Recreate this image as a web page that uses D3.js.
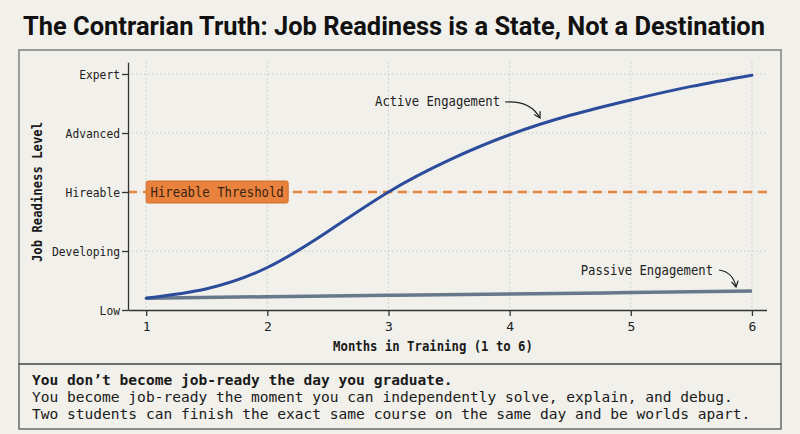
<!DOCTYPE html>
<html>
<head>
<meta charset='UTF-8'>
<title>Job Readiness</title>
<script src='https://d3js.org/d3.v7.min.js'></script>
<style>
  body { margin: 0; background: #f1f0eb; }
  svg { display: block; }
</style>
</head>
<body>
<div id="chart"></div>
<script>
// data
var levels  = ["Low", "Developing", "Hireable", "Advanced", "Expert"];
var months  = [1, 2, 3, 4, 5, 6];
var activeMonths  = [1, 1.5, 2, 2.5, 3, 3.5, 4, 4.5, 5, 5.5, 6];
var activeLevels  = [0.2, 0.36, 0.72, 1.33, 2.0, 2.54, 2.97, 3.3, 3.56, 3.79, 3.98];
var passiveMonths = [1, 2, 3, 4, 5, 6];
var passiveLevels = [0.2, 0.225, 0.25, 0.27, 0.295, 0.32];
var threshold = 2;
var title = "The Contrarian Truth: Job Readiness is a State, Not a Destination";
var notes = [
  "You don\u2019t become job-ready the day you graduate.",
  "You become job-ready the moment you can independently solve, explain, and debug.",
  "Two students can finish the exact same course on the same day and be worlds apart."
];

var W = 800, H = 434;
var mono = "'DejaVu Sans Mono', 'Liberation Mono', monospace";

var svg = d3.select("#chart").append("svg")
    .attr("width", W).attr("height", H);

svg.append("rect").attr("width", W).attr("height", H).attr("fill", "#f1f0eb");

// squeeze mono text so it looks condensed like the original
function squeeze(sel, perChar) {
  sel.each(function() {
    var t = d3.select(this);
    t.attr("textLength", t.text().length * perChar).attr("lengthAdjust", "spacingAndGlyphs");
  });
}

// title
svg.append("text")
    .attr("x", 23).attr("y", 35)
    .attr("textLength", 742).attr("lengthAdjust", "spacingAndGlyphs")
    .style("font-family", "Roboto, 'Liberation Sans', sans-serif")
    .style("font-weight", 700).style("font-size", "25px")
    .attr("fill", "#111")
    .text(title);

// frames
svg.append("rect").attr("x", 19).attr("y", 50).attr("width", 762).attr("height", 314)
    .attr("fill", "none").attr("stroke", "#6f6f6f").attr("stroke-width", 1.3);
svg.append("rect").attr("x", 19).attr("y", 364).attr("width", 762).attr("height", 65)
    .attr("fill", "none").attr("stroke", "#555").attr("stroke-width", 1.3);

// scales
var x = d3.scaleLinear().domain([0.85, 6.12]).range([128, 766.5]);
var y = d3.scaleLinear().domain([0, 4.2]).range([310, 62.2]);

// grid
var grid = svg.append("g").attr("stroke", "#c9c9c4").attr("stroke-width", 1)
    .attr("stroke-dasharray", "1.5,2.5");
grid.selectAll(".gh").data([1, 2, 3, 4]).enter().append("line")
    .attr("x1", 128).attr("x2", 768)
    .attr("y1", function(d) { return y(d); }).attr("y2", function(d) { return y(d); });
grid.selectAll(".gv").data(months).enter().append("line")
    .attr("x1", function(d) { return x(d); }).attr("x2", function(d) { return x(d); })
    .attr("y1", 62).attr("y2", 310);

// threshold line
svg.append("line")
    .attr("x1", 128).attr("x2", 768)
    .attr("y1", y(threshold)).attr("y2", y(threshold))
    .attr("stroke", "#e3843f").attr("stroke-width", 2.5)
    .attr("stroke-dasharray", "9,6");

// axes
var yAxis = svg.append("g").attr("transform", "translate(128,0)")
    .call(d3.axisLeft(y).tickValues([0, 1, 2, 3, 4])
        .tickFormat(function(d) { return levels[d]; })
        .tickSize(6).tickSizeOuter(0).tickPadding(2));
var xAxis = svg.append("g").attr("transform", "translate(0,310)")
    .call(d3.axisBottom(x).tickValues(months).tickFormat(d3.format("d"))
        .tickSize(6).tickSizeOuter(0).tickPadding(6));
[yAxis, xAxis].forEach(function(a) {
  a.select(".domain").attr("stroke", "#333").attr("stroke-width", 1.3);
  a.selectAll(".tick line").attr("stroke", "#333").attr("stroke-width", 1.3);
  a.selectAll(".tick text").style("font-family", mono).attr("fill", "#222");
});
yAxis.selectAll(".tick text").style("font-size", "12.5px").call(squeeze, 6.8);
xAxis.selectAll(".tick text").style("font-size", "13px");

// axis titles
svg.append("text")
    .attr("transform", "translate(42,192) rotate(-90)")
    .attr("text-anchor", "middle")
    .style("font-family", mono).style("font-weight", 700).style("font-size", "13.5px")
    .attr("fill", "#1a1a1a")
    .text("Job Readiness Level").call(squeeze, 7.37);
svg.append("text")
    .attr("x", 433).attr("y", 351)
    .attr("text-anchor", "middle")
    .style("font-family", mono).style("font-weight", 700).style("font-size", "13.5px")
    .attr("fill", "#1a1a1a")
    .text("Months in Training (1 to 6)").call(squeeze, 7.4);

// lines
var line = d3.line()
    .x(function(d) { return x(d[0]); })
    .y(function(d) { return y(d[1]); })
    .curve(d3.curveNatural);

svg.append("path")
    .datum(d3.zip(passiveMonths, passiveLevels))
    .attr("d", line)
    .attr("fill", "none").attr("stroke", "#66788a").attr("stroke-width", 3.5);
svg.append("path")
    .datum(d3.zip(activeMonths, activeLevels))
    .attr("d", line)
    .attr("fill", "none").attr("stroke", "#2b4b9b").attr("stroke-width", 3)
    .attr("stroke-linecap", "round");

// threshold label
var lab = svg.append("g");
lab.append("rect")
    .attr("x", x(1)).attr("y", y(threshold) - 11)
    .attr("width", 142).attr("height", 22).attr("rx", 2)
    .attr("fill", "#e8823c").attr("stroke", "#d36e2b").attr("stroke-width", 1);
lab.append("text")
    .attr("x", x(1) + 71).attr("y", y(threshold) + 4.5)
    .attr("text-anchor", "middle")
    .style("font-family", mono).style("font-size", "13.5px")
    .attr("fill", "#3a2214")
    .text("Hireable Threshold").call(squeeze, 7.4);

// annotations
var defs = svg.append("defs");
defs.append("marker").attr("id", "arr")
    .attr("viewBox", "0 0 10 10").attr("refX", 8).attr("refY", 5)
    .attr("markerWidth", 7).attr("markerHeight", 7).attr("orient", "auto")
    .append("path").attr("d", "M1,1 L8,5 L1,9")
    .attr("fill", "none").attr("stroke", "#222").attr("stroke-width", 1.5);

svg.append("text")
    .attr("x", 500).attr("y", 106).attr("text-anchor", "end")
    .style("font-family", mono).style("font-size", "13.5px").attr("fill", "#222")
    .text("Active Engagement").call(squeeze, 7.35);
svg.append("path")
    .attr("d", "M505,102 Q530,100 540,118")
    .attr("fill", "none").attr("stroke", "#222").attr("stroke-width", 1.2)
    .attr("marker-end", "url(#arr)");

svg.append("text")
    .attr("x", 713).attr("y", 275).attr("text-anchor", "end")
    .style("font-family", mono).style("font-size", "13.5px").attr("fill", "#222")
    .text("Passive Engagement").call(squeeze, 7.35);
svg.append("path")
    .attr("d", "M719,270 Q733,272 736,287")
    .attr("fill", "none").attr("stroke", "#222").attr("stroke-width", 1.2)
    .attr("marker-end", "url(#arr)");

// notes
var ny = [385, 402, 419];
notes.forEach(function(t, i) {
  svg.append("text")
      .attr("x", 32).attr("y", ny[i])
      .style("font-family", mono).style("font-size", "14.5px")
      .style("font-weight", i === 0 ? 700 : 400)
      .attr("fill", "#1a1a1a")
      .text(t).call(squeeze, 8.76);
});
</script>
</body>
</html>
